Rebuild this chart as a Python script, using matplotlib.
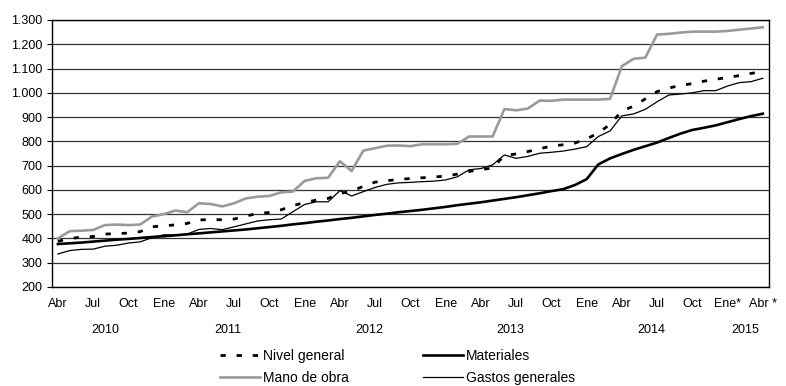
import matplotlib
matplotlib.use('Agg')
import matplotlib.pyplot as plt
from matplotlib.ticker import FuncFormatter

plt.rcParams['font.family'] = ['Liberation Sans', 'DejaVu Sans']

# monthly index, Abr 2010 .. Abr 2015
MONTHS = list(range(61))

nivel_general = [388, 400, 405, 408, 418, 420, 422, 428, 448, 452,
                 456, 462, 476, 478, 477, 480, 492, 503, 507, 518,
                 535, 548, 558, 565, 585, 595, 615, 632, 638, 643,
                 647, 650, 653, 657, 665, 676, 684, 690, 742, 748,
                 758, 770, 780, 786, 793, 810, 835, 870, 925, 945,
                 975, 1005, 1020, 1030, 1038, 1048, 1056, 1063, 1071, 1080,
                 1087]

materiales = [377, 380, 383, 387, 391, 395, 398, 402, 406, 409,
              413, 417, 421, 425, 429, 433, 437, 442, 447, 452,
              458, 463, 469, 474, 480, 485, 491, 497, 502, 508,
              513, 518, 524, 530, 537, 543, 549, 556, 563, 570,
              578, 586, 595, 603, 620, 644, 705, 730, 748, 765,
              780, 795, 814, 832, 847, 856, 866, 879, 892, 904,
              914]

mano_de_obra = [400, 430, 432, 435, 455, 457, 455, 457, 490, 500,
                515, 508, 545, 542, 532, 545, 565, 572, 575, 590,
                593, 637, 648, 650, 718, 678, 762, 772, 782, 783,
                780, 788, 788, 788, 790, 820, 820, 820, 933, 928,
                935, 968, 967, 972, 972, 972, 972, 975, 1110, 1140,
                1145, 1240, 1243, 1248, 1252, 1252, 1252, 1255, 1260, 1265,
                1270]

gastos_generales = [336, 350, 355, 356, 368, 372, 381, 386, 403, 415,
                    414, 418, 437, 441, 436, 448, 460, 472, 477, 480,
                    510, 540, 551, 551, 597, 575, 593, 610, 623, 629,
                    631, 634, 636, 641, 654, 683, 688, 703, 744, 730,
                    738, 751, 755, 760, 768, 778, 820, 843, 905, 913,
                    932, 963, 991, 995, 1000, 1009, 1009, 1028, 1042, 1046,
                    1060]

month_ticks = list(range(0, 61, 3))
month_labels = ['Abr', 'Jul', 'Oct', 'Ene'] * 5 + ['Abr']
month_labels[19] = 'Ene*'
month_labels[20] = 'Abr *'

years = ['2010', '2011', '2012', '2013', '2014', '2015']
year_pos = [4, 14.5, 26.5, 38.5, 50.5, 58.5]

fig = plt.figure(figsize=(7.86, 3.86), dpi=100)
ax = fig.add_axes([0.0662, 0.2565, 0.9118, 0.6917])

ax.plot(MONTHS, mano_de_obra, color='#9a9a9a', linewidth=1.9, label='Mano de obra', zorder=3)
ax.plot(MONTHS, materiales, color='black', linewidth=1.9, label='Materiales', zorder=4)
ax.plot(MONTHS, gastos_generales, color='black', linewidth=0.9, label='Gastos generales', zorder=5)
ax.plot(MONTHS, nivel_general, color='black', linewidth=2.0, dashes=(1.9, 3.9),
        label='Nivel general', zorder=6)

ax.set_xlim(-0.5, 60.5)
ax.set_ylim(200, 1300)
ax.set_yticks(range(200, 1301, 100))
ax.yaxis.set_major_formatter(FuncFormatter(lambda v, p: f'{v:,.0f}'.replace(',', '.')))
ax.yaxis.grid(True, color='#333333', linewidth=0.9)
ax.set_axisbelow(True)

ax.set_xticks(month_ticks)
ax.set_xticklabels(month_labels)
ax.tick_params(axis='x', length=0, pad=8, labelsize=9)
ax.tick_params(axis='y', length=3.5, pad=3.5, labelsize=9, direction='out')

for sp in ax.spines.values():
  sp.set_color('black')
  sp.set_linewidth(1.0)

for y, xp in zip(years, year_pos):
  ax.text(xp, -0.161, y, transform=ax.get_xaxis_transform(), ha='center', va='center', fontsize=9)

handles, labels = ax.get_legend_handles_labels()
order = [3, 0, 1, 2]  # Nivel, Mano | Materiales, Gastos
fig.legend([handles[i] for i in order], [labels[i] for i in order],
           loc='upper left', bbox_to_anchor=(0.28, 0.095), ncol=2, frameon=False,
           fontsize=10, handlelength=2.9, handletextpad=0.2, columnspacing=5.3,
           labelspacing=0.55, borderpad=0, borderaxespad=0)

fig.savefig('out.png', dpi=100)
